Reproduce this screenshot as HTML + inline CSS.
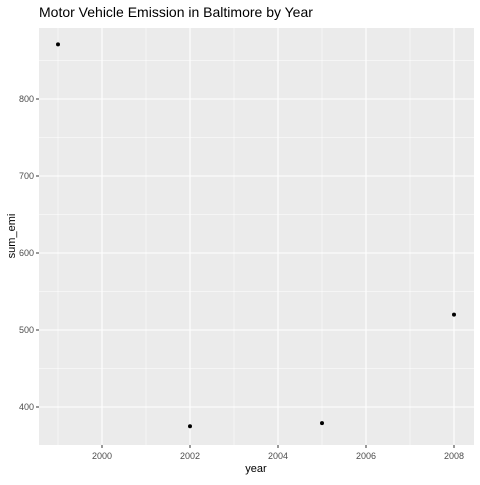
<!DOCTYPE html>
<html><head><meta charset="utf-8"><style>
body{margin:0;background:#fff;font-family:"Liberation Sans",sans-serif;}
</style></head><body>
<svg width="480" height="480" xmlns="http://www.w3.org/2000/svg">
<text x="39" y="17" font-size="14" fill="#000">Motor Vehicle Emission in Baltimore by Year</text>
<rect x="39" y="28" width="435" height="417" fill="#ebebeb"/>
<g id="grid"></g>
<g id="pts"></g>
<g id="axes"></g>
<text x="256" y="472" font-size="11" text-anchor="middle" fill="#000">year</text>
<text transform="translate(15,236) rotate(-90)" font-size="11" text-anchor="middle" fill="#000">sum_emi</text>
</svg>
<script>
const years=[1999,2002,2005,2008];
const sumEmi=[871,375,379,520];
const xTicks=[2000,2002,2004,2006,2008];
const yTicks=[400,500,600,700,800];
const X=v=>102+(v-2000)*44;
const Y=v=>407-(v-400)*0.77;
const NS="http://www.w3.org/2000/svg";
function mk(t,a,p){const e=document.createElementNS(NS,t);for(const k in a)e.setAttribute(k,a[k]);p.appendChild(e);return e;}
const g=document.getElementById('grid'),ax=document.getElementById('axes'),pt=document.getElementById('pts');
for(let i=0;i<xTicks.length;i++){
 const x=X(xTicks[i]);
 const l=mk('line',{x1:x,x2:x,y1:28,y2:445,stroke:'#fff','stroke-width':1.1},g);
 
 
 if(i<xTicks.length){const xm=X(xTicks[i]-1);const m=mk('line',{x1:xm,x2:xm,y1:28,y2:445,stroke:'#fff','stroke-width':0.5},g);
 
 }
 const t=mk('line',{x1:x,x2:x,y1:445,y2:448,stroke:'#333'},ax);
 
 
 const tx=mk('text',{x:x,y:459,'font-size':9,'text-anchor':'middle',fill:'#4d4d4d'},ax);tx.textContent=xTicks[i];
 
 
}
{const xm=X(xTicks[xTicks.length-1]+1);}
const ym=[350,450,550,650,750,850];
for(const v of ym){const y=Y(v);const m=mk('line',{x1:39,x2:474,y1:y,y2:y,stroke:'#fff','stroke-width':0.5},g);
 
 }
for(const v of yTicks){
 const y=Y(v);
 const l=mk('line',{x1:39,x2:474,y1:y,y2:y,stroke:'#fff','stroke-width':1.1},g);
 
 
 const t=mk('line',{x1:36,x2:39,y1:y,y2:y,stroke:'#333'},ax);
 
 
 const tx=mk('text',{x:34,y:y+3,'font-size':9,'text-anchor':'end',fill:'#4d4d4d'},ax);tx.textContent=v;
 
 
}
for(let i=0;i<years.length;i++){
 const c=mk('circle',{cx:X(years[i]),cy:Y(sumEmi[i]),r:2,fill:'#000'},pt);
 
 
}
</script>
</body></html>
